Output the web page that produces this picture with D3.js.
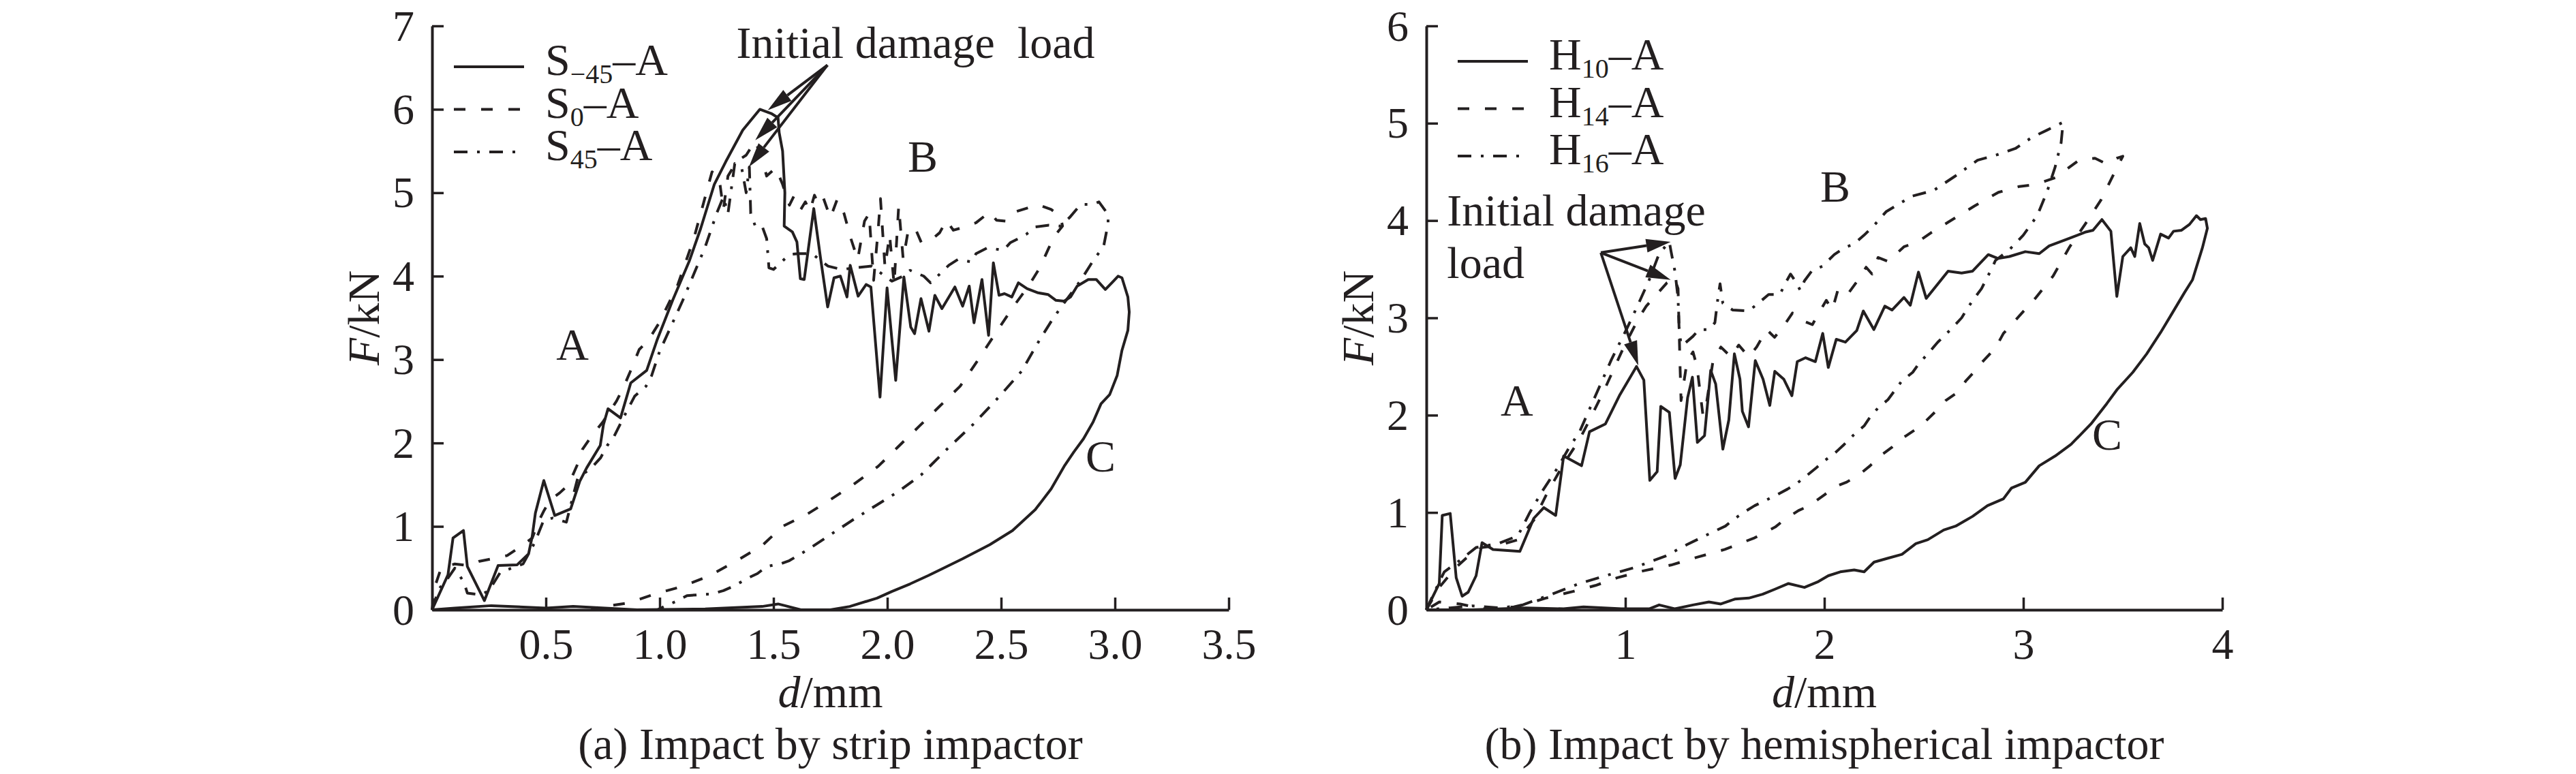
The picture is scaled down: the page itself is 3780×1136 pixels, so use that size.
<!DOCTYPE html>
<html>
<head>
<meta charset="utf-8">
<script src="https://cdn.jsdelivr.net/npm/d3@7/dist/d3.min.js"></script>
<style>
body { margin: 0; background: #fff; }
svg text { font-family: "Liberation Serif", "Times New Roman", serif; fill: #231f20; }
</style>
</head>
<body>
<div id="chart"></div>
<script>
// ---- data: [d (mm), F (kN)] ----

// (a) strip impactor
const s45neg = [[0,0],[0.07,0.42],[0.092,0.86],[0.138,0.95],[0.155,0.52],[0.23,0.11],[0.29,0.53],[0.374,0.54],[0.424,0.67],[0.44,0.88],[0.454,1.16],[0.491,1.55],[0.539,1.13],[0.609,1.21],[0.649,1.54],[0.679,1.7],[0.739,1.97],[0.753,2.22],[0.773,2.41],[0.828,2.3],[0.873,2.72],[0.943,2.87],[0.988,3.23],[1.057,3.71],[1.13,4.18],[1.18,4.57],[1.24,5.1],[1.29,5.37],[1.365,5.75],[1.44,6.0],[1.49,5.95],[1.52,5.9],[1.525,5.72],[1.54,5.5],[1.55,5.0],[1.547,4.6],[1.583,4.53],[1.603,4.41],[1.618,3.97],[1.635,3.96],[1.677,4.81],[1.706,4.23],[1.738,3.63],[1.766,3.98],[1.794,4.0],[1.823,3.75],[1.837,4.13],[1.872,3.76],[1.907,3.9],[1.928,3.87],[1.968,2.55],[1.999,3.86],[2.037,2.75],[2.073,3.99],[2.103,3.39],[2.12,3.31],[2.148,3.73],[2.183,3.34],[2.209,3.77],[2.24,3.61],[2.297,3.87],[2.331,3.64],[2.36,3.88],[2.381,3.44],[2.416,3.96],[2.445,3.29],[2.466,4.16],[2.491,3.77],[2.515,3.79],[2.547,3.75],[2.576,3.92],[2.614,3.85],[2.663,3.8],[2.706,3.78],[2.741,3.71],[2.777,3.7],[2.805,3.75],[2.834,3.88],[2.883,3.96],[2.918,3.96],[2.958,3.84],[2.99,3.93],[3.014,4.0],[3.031,3.98],[3.057,3.75],[3.063,3.57],[3.057,3.35],[3.031,3.11],[3.01,2.81],[2.977,2.58],[2.939,2.47],[2.904,2.25],[2.862,2.05],[2.819,1.89],[2.777,1.72],[2.72,1.45],[2.65,1.2],[2.55,0.95],[2.45,0.78],[2.33,0.61],[2.24,0.49],[2.18,0.41],[2.1,0.31],[2.02,0.22],[1.955,0.14],[1.835,0.04],[1.75,0.0],[1.62,0.0],[1.55,0.05],[1.52,0.07],[1.45,0.04],[1.2,0.01],[0.9,0.0],[0.62,0.04],[0.5,0.02],[0.26,0.05],[0.1,0.02],[0,0]];

const s0 = [[0,0],[0.015,0.3],[0.04,0.5],[0.1,0.55],[0.16,0.53],[0.205,0.58],[0.28,0.62],[0.33,0.65],[0.39,0.76],[0.44,0.86],[0.47,1.07],[0.49,1.18],[0.52,1.32],[0.56,1.4],[0.6,1.5],[0.64,1.75],[0.66,1.92],[0.7,2.08],[0.75,2.25],[0.81,2.5],[0.84,2.66],[0.87,2.85],[0.91,3.12],[0.95,3.23],[1.0,3.45],[1.08,3.9],[1.15,4.45],[1.2,4.95],[1.23,5.25],[1.26,5.2],[1.28,4.8],[1.3,5.2],[1.34,5.38],[1.38,5.45],[1.42,5.62],[1.45,5.4],[1.47,5.2],[1.51,5.3],[1.54,5.1],[1.57,4.85],[1.59,4.96],[1.62,4.8],[1.64,4.89],[1.66,4.78],[1.68,4.97],[1.7,4.85],[1.72,4.93],[1.75,4.7],[1.78,4.92],[1.81,4.75],[1.84,4.45],[1.87,4.2],[1.9,4.66],[1.92,4.75],[1.94,3.95],[1.96,4.56],[1.97,4.93],[1.99,4.1],[2.01,4.5],[2.03,3.9],[2.05,4.84],[2.07,4.2],[2.09,4.52],[2.12,4.59],[2.15,4.4],[2.2,4.45],[2.23,4.52],[2.26,4.67],[2.29,4.55],[2.34,4.59],[2.39,4.64],[2.45,4.77],[2.48,4.67],[2.52,4.66],[2.55,4.76],[2.62,4.82],[2.66,4.86],[2.72,4.8],[2.76,4.72],[2.77,4.6],[2.74,4.5],[2.71,4.34],[2.67,4.1],[2.62,3.88],[2.55,3.62],[2.46,3.25],[2.39,2.96],[2.32,2.68],[2.23,2.44],[2.14,2.2],[2.05,1.96],[1.96,1.72],[1.85,1.5],[1.75,1.32],[1.65,1.15],[1.54,1.0],[1.45,0.77],[1.34,0.59],[1.22,0.41],[1.1,0.28],[0.98,0.19],[0.86,0.08],[0.73,0.03],[0.7,0.0]];

const s45 = [[0,0],[0.03,0.25],[0.07,0.38],[0.1,0.5],[0.14,0.33],[0.155,0.2],[0.215,0.18],[0.25,0.23],[0.3,0.45],[0.4,0.55],[0.45,0.8],[0.49,1.07],[0.53,1.1],[0.59,1.05],[0.64,1.58],[0.7,1.7],[0.74,1.82],[0.77,1.97],[0.8,2.08],[0.84,2.3],[0.89,2.56],[0.94,2.68],[0.965,2.81],[1.0,3.1],[1.1,3.7],[1.2,4.35],[1.25,4.75],[1.28,4.95],[1.3,4.75],[1.33,5.35],[1.36,5.3],[1.38,5.0],[1.394,5.31],[1.4,4.75],[1.42,4.6],[1.45,4.6],[1.47,4.45],[1.48,4.1],[1.5,4.08],[1.57,4.26],[1.61,4.27],[1.67,4.27],[1.71,4.18],[1.74,4.12],[1.8,4.08],[1.86,4.1],[1.93,4.12],[1.99,4.0],[2.02,3.94],[2.07,4.0],[2.1,4.07],[2.16,4.0],[2.19,3.92],[2.24,4.05],[2.27,4.13],[2.31,4.2],[2.37,4.17],[2.39,4.27],[2.44,4.34],[2.51,4.31],[2.54,4.4],[2.59,4.47],[2.61,4.5],[2.65,4.59],[2.71,4.61],[2.76,4.6],[2.8,4.7],[2.85,4.86],[2.9,4.86],[2.93,4.89],[2.97,4.74],[2.97,4.63],[2.95,4.35],[2.91,4.21],[2.85,3.95],[2.78,3.69],[2.73,3.5],[2.67,3.24],[2.59,2.86],[2.49,2.55],[2.38,2.23],[2.26,1.92],[2.15,1.62],[2.05,1.42],[1.95,1.25],[1.85,1.08],[1.75,0.9],[1.65,0.72],[1.57,0.59],[1.53,0.55],[1.47,0.52],[1.43,0.435],[1.38,0.37],[1.33,0.29],[1.28,0.23],[1.23,0.19],[1.17,0.18],[1.12,0.17],[1.08,0.11],[1.02,0.04],[0.99,0.0]];

// (b) hemispherical impactor
const h10 = [[0,0],[0.065,0.27],[0.08,0.97],[0.12,0.99],[0.15,0.33],[0.18,0.14],[0.21,0.18],[0.25,0.35],[0.28,0.69],[0.335,0.62],[0.47,0.6],[0.54,0.94],[0.59,1.05],[0.65,0.97],[0.69,1.58],[0.78,1.48],[0.82,1.83],[0.9,1.91],[0.97,2.2],[1.056,2.5],[1.093,2.36],[1.123,1.33],[1.16,1.42],[1.178,2.09],[1.221,2.03],[1.25,1.35],[1.276,1.49],[1.313,2.18],[1.337,2.39],[1.362,1.72],[1.398,1.79],[1.429,2.46],[1.454,2.32],[1.49,1.65],[1.52,1.95],[1.548,2.63],[1.576,2.37],[1.588,2.04],[1.619,1.88],[1.653,2.56],[1.692,2.37],[1.726,2.1],[1.751,2.45],[1.796,2.37],[1.837,2.2],[1.864,2.55],[1.906,2.59],[1.955,2.55],[1.992,2.84],[2.02,2.49],[2.06,2.78],[2.106,2.75],[2.163,2.87],[2.196,3.07],[2.249,2.88],[2.304,3.12],[2.34,3.08],[2.4,3.21],[2.432,3.13],[2.473,3.47],[2.512,3.2],[2.622,3.48],[2.69,3.46],[2.745,3.48],[2.824,3.65],[2.873,3.61],[2.93,3.63],[3.01,3.68],[3.08,3.66],[3.13,3.74],[3.21,3.8],[3.31,3.88],[3.35,3.9],[3.395,4.01],[3.44,3.89],[3.47,3.22],[3.5,3.63],[3.54,3.72],[3.56,3.63],[3.585,3.97],[3.61,3.76],[3.63,3.72],[3.65,3.59],[3.69,3.86],[3.73,3.82],[3.755,3.89],[3.795,3.9],[3.835,3.96],[3.87,4.05],[3.89,4.01],[3.916,4.02],[3.925,3.92],[3.9,3.72],[3.85,3.39],[3.81,3.26],[3.74,3.02],[3.69,2.85],[3.62,2.63],[3.55,2.44],[3.47,2.26],[3.42,2.12],[3.34,1.91],[3.24,1.7],[3.16,1.58],[3.08,1.48],[3.01,1.31],[2.94,1.25],[2.9,1.14],[2.82,1.07],[2.745,0.96],[2.66,0.86],[2.6,0.82],[2.52,0.72],[2.46,0.68],[2.39,0.57],[2.32,0.53],[2.25,0.49],[2.2,0.39],[2.15,0.41],[2.08,0.39],[2.02,0.35],[1.97,0.29],[1.9,0.23],[1.82,0.27],[1.75,0.21],[1.69,0.16],[1.62,0.12],[1.55,0.11],[1.48,0.06],[1.42,0.08],[1.34,0.05],[1.25,0.01],[1.17,0.05],[1.12,0.01],[0.98,0.01],[0.79,0.03],[0.69,0.01],[0.5,0.02],[0.23,0],[0,0]];

const h14 = [[0,0],[0.065,0.23],[0.146,0.43],[0.2,0.53],[0.28,0.64],[0.36,0.66],[0.46,0.72],[0.54,0.92],[0.605,1.19],[0.69,1.5],[0.77,1.75],[0.82,1.95],[0.89,2.24],[0.99,2.69],[1.068,3.0],[1.105,3.12],[1.166,3.26],[1.209,3.36],[1.246,3.41],[1.265,3.3],[1.27,2.9],[1.275,2.5],[1.28,2.15],[1.31,2.55],[1.34,2.65],[1.36,2.5],[1.39,2.0],[1.41,2.15],[1.44,2.55],[1.48,2.7],[1.53,2.6],[1.57,2.72],[1.62,2.6],[1.66,2.7],[1.71,2.88],[1.75,2.8],[1.79,2.9],[1.84,3.05],[1.88,2.98],[1.94,2.93],[1.97,3.04],[2.01,3.18],[2.04,3.08],[2.07,3.3],[2.12,3.25],[2.17,3.39],[2.21,3.52],[2.24,3.45],[2.27,3.62],[2.32,3.58],[2.4,3.73],[2.47,3.78],[2.54,3.88],[2.62,3.98],[2.755,4.15],[2.875,4.29],[2.98,4.35],[3.06,4.37],[3.16,4.44],[3.28,4.62],[3.36,4.64],[3.42,4.58],[3.47,4.64],[3.5,4.66],[3.46,4.5],[3.39,4.21],[3.31,3.96],[3.23,3.72],[3.15,3.43],[3.06,3.2],[2.98,3.02],[2.9,2.84],[2.86,2.69],[2.8,2.56],[2.76,2.46],[2.71,2.35],[2.68,2.25],[2.61,2.15],[2.57,2.06],[2.505,1.93],[2.456,1.85],[2.39,1.76],[2.34,1.67],[2.28,1.58],[2.23,1.48],[2.17,1.38],[2.11,1.31],[2.047,1.26],[2.0,1.18],[1.925,1.07],[1.87,1.02],[1.796,0.92],[1.753,0.85],[1.65,0.74],[1.5,0.62],[1.36,0.54],[1.23,0.46],[1.09,0.4],[0.96,0.33],[0.85,0.25],[0.74,0.19],[0.6,0.12],[0.52,0.07],[0.44,0.03],[0.28,0.01],[0.17,0.06],[0.065,0.08],[0,0]];

const h16 = [[0,0],[0.04,0.18],[0.09,0.39],[0.17,0.51],[0.25,0.64],[0.36,0.68],[0.46,0.76],[0.52,1.0],[0.58,1.21],[0.66,1.46],[0.71,1.64],[0.77,1.83],[0.85,2.2],[0.93,2.57],[1.01,2.9],[1.065,3.14],[1.12,3.39],[1.17,3.66],[1.221,3.78],[1.23,3.68],[1.25,3.47],[1.265,3.2],[1.27,2.9],[1.28,2.72],[1.3,2.74],[1.34,2.81],[1.37,2.88],[1.42,2.88],[1.45,2.95],[1.465,3.2],[1.476,3.35],[1.49,3.15],[1.54,3.08],[1.62,3.07],[1.674,3.16],[1.72,3.24],[1.777,3.24],[1.8,3.34],[1.83,3.45],[1.85,3.39],[1.88,3.28],[1.9,3.38],[1.94,3.49],[1.99,3.53],[2.05,3.65],[2.1,3.72],[2.15,3.76],[2.2,3.85],[2.25,3.95],[2.31,4.09],[2.44,4.25],[2.55,4.31],[2.66,4.46],[2.77,4.62],[2.875,4.68],[2.96,4.74],[3.04,4.85],[3.12,4.93],[3.2,5.01],[3.19,4.8],[3.16,4.55],[3.12,4.3],[3.07,4.05],[3.0,3.85],[2.93,3.7],[2.86,3.59],[2.84,3.5],[2.817,3.41],[2.79,3.3],[2.75,3.19],[2.72,3.1],[2.69,3.0],[2.64,2.89],[2.57,2.75],[2.52,2.63],[2.475,2.53],[2.444,2.44],[2.389,2.35],[2.32,2.16],[2.268,2.07],[2.23,1.98],[2.2,1.89],[2.144,1.79],[2.1,1.7],[2.058,1.62],[2.0,1.53],[1.96,1.46],[1.918,1.39],[1.863,1.3],[1.815,1.24],[1.76,1.18],[1.7,1.12],[1.65,1.07],[1.594,1.0],[1.545,0.93],[1.503,0.86],[1.44,0.8],[1.31,0.67],[1.2,0.55],[1.04,0.43],[0.9,0.35],[0.77,0.27],[0.63,0.16],[0.55,0.1],[0.47,0.04],[0.36,0.02],[0.23,0.04],[0.12,0.02],[0,0]];

// ticks
const ticksAx = [0.5, 1.0, 1.5, 2.0, 2.5, 3.0, 3.5];
const ticksAy = [0, 1, 2, 3, 4, 5, 6, 7];
const ticksBx = [1, 2, 3, 4];
const ticksBy = [0, 1, 2, 3, 4, 5, 6];

const legendA = [["S", "\u221245", "\u2013A"], ["S", "0", "\u2013A"], ["S", "45", "\u2013A"]];
const legendB = [["H", "10", "\u2013A"], ["H", "14", "\u2013A"], ["H", "16", "\u2013A"]];

const ink = "#231f20";
const dashes = { solid: null, dash: "17,23", dashdot: "20,14,4,14" };

const W = 3780, H = 1136;
const svg = d3.select("#chart").append("svg")
    .attr("width", W).attr("height", H)
    .attr("viewBox", `0 0 ${W} ${H}`);

function drawPanel(p) {
    const x = d3.scaleLinear().domain([0, p.xMax]).range([p.left, p.right]);
    const y = d3.scaleLinear().domain([0, p.yMax]).range([p.bottom, p.top]);
    const g = svg.append("g");

    // axes with inward ticks
    const xAxis = d3.axisBottom(x).tickValues(p.xTicks).tickFormat(p.xFmt)
        .tickSizeInner(-18).tickSizeOuter(0).tickPadding(27);
    const yAxis = d3.axisLeft(y).tickValues(p.yTicks).tickFormat(d3.format("d"))
        .tickSizeInner(-17).tickSizeOuter(0).tickPadding(26);

    const gx = g.append("g").attr("transform", `translate(0,${p.bottom})`).call(xAxis);
    const gy = g.append("g").attr("transform", `translate(${p.left},0)`).call(yAxis);
    [gx, gy].forEach(a => {
        a.attr("font-family", null).attr("font-size", null);
        a.select(".domain").attr("stroke", ink).attr("stroke-width", 4);
        a.selectAll(".tick line").attr("stroke", ink).attr("stroke-width", 3.5);
        a.selectAll(".tick text").attr("fill", ink).style("font-size", "64px");
    });
    gy.selectAll(".tick text").attr("dy", "0.33em");
    gy.selectAll(".tick").filter(d => d === 0).select("line").remove();

    // curves
    const line = d3.line().x(d => x(d[0])).y(d => y(d[1]));
    p.series.forEach(s => {
        g.append("path")
            .datum(s.data)
            .attr("d", line)
            .attr("fill", "none")
            .attr("stroke", ink)
            .attr("stroke-width", 4)
            .attr("stroke-linejoin", "round")
            .attr("stroke-dasharray", dashes[s.style]);
    });

    // legend
    p.legend.forEach((lab, i) => {
        const ly = p.legendY + i * p.legendStep;
        g.append("line")
            .attr("x1", p.legendX).attr("x2", p.legendX + 103)
            .attr("y1", ly - 12).attr("y2", ly - 12)
            .attr("stroke", ink).attr("stroke-width", 4)
            .attr("stroke-dasharray", dashes[p.series[i].style]);
        const t = g.append("text").attr("x", p.legendX + 134).attr("y", ly).style("font-size", "66px");
        t.append("tspan").text(lab[0]);
        t.append("tspan").attr("dy", 12).style("font-size", "40px").text(lab[1]);
        t.append("tspan").attr("dy", -12).text(lab[2]);
    });

    // axis titles
    const yl = g.append("text")
        .attr("transform", `translate(${p.yLabelX},${(p.top + p.bottom) / 2}) rotate(-90)`)
        .attr("text-anchor", "middle").style("font-size", "66px");
    yl.append("tspan").style("font-style", "italic").text("F");
    yl.append("tspan").text("/kN");

    const xl = g.append("text")
        .attr("x", (p.left + p.right) / 2).attr("y", 1038)
        .attr("text-anchor", "middle").style("font-size", "66px");
    xl.append("tspan").style("font-style", "italic").text("d");
    xl.append("tspan").text("/mm");

    g.append("text")
        .attr("x", (p.left + p.right) / 2).attr("y", 1114)
        .attr("text-anchor", "middle").style("font-size", "66px")
        .text(p.caption);

    // region letters
    p.regions.forEach(r => {
        g.append("text").attr("x", x(r[1])).attr("y", y(r[2]))
            .attr("text-anchor", "middle").style("font-size", "66px").text(r[0]);
    });

    // "Initial damage load" note with arrows
    p.note.lines.forEach((s, i) => {
        g.append("text").attr("x", x(p.note.at[0])).attr("y", y(p.note.at[1]) + i * 77)
            .style("font-size", "66px").style("white-space", "pre").text(s);
    });
    const ox = x(p.note.from[0]), oy = y(p.note.from[1]);
    p.note.tips.forEach(tp => {
        const tx = x(tp[0]), ty = y(tp[1]);
        const dx = tx - ox, dy = ty - oy, len = Math.hypot(dx, dy);
        const ux = dx / len, uy = dy / len;
        const hl = 36, hw = 10;
        const bx = tx - ux * hl, by = ty - uy * hl;
        g.append("line").attr("x1", ox).attr("y1", oy).attr("x2", bx).attr("y2", by)
            .attr("stroke", ink).attr("stroke-width", 4);
        g.append("path")
            .attr("d", `M${tx},${ty}L${bx - uy * hw},${by + ux * hw}L${bx + uy * hw},${by - ux * hw}Z`)
            .attr("fill", ink);
    });
}

drawPanel({
    left: 634, right: 1803, top: 38, bottom: 895,
    xMax: 3.5, yMax: 7, xTicks: ticksAx, yTicks: ticksAy, xFmt: d3.format(".1f"),
    series: [{data: s45neg, style: "solid"}, {data: s0, style: "dash"}, {data: s45, style: "dashdot"}],
    legend: legendA, legendX: 666, legendY: 110, legendStep: 62.5,
    yLabelX: 556,
    caption: "(a) Impact by strip impactor",
    regions: [["A", 0.617, 3.0], ["B", 2.156, 5.253], ["C", 2.937, 1.658]],
    note: {lines: ["Initial damage  load"], at: [1.337, 6.618], from: [1.737, 6.53],
           tips: [[1.475, 5.99], [1.42, 5.63], [1.392, 5.31]]}
});

drawPanel({
    left: 2093, right: 3261, top: 38, bottom: 895,
    xMax: 4, yMax: 6, xTicks: ticksBx, yTicks: ticksBy, xFmt: d3.format("d"),
    series: [{data: h10, style: "solid"}, {data: h14, style: "dash"}, {data: h16, style: "dashdot"}],
    legend: legendB, legendX: 2139, legendY: 102, legendStep: 69.5,
    yLabelX: 2015,
    caption: "(b) Impact by hemispherical impactor",
    regions: [["A", 0.455, 1.997], ["B", 2.055, 4.197], ["C", 3.421, 1.647]],
    note: {lines: ["Initial damage", "load"], at: [0.104, 3.948], from: [0.877, 3.67],
           tips: [[1.228, 3.78], [1.228, 3.39], [1.065, 2.51]]}
});
</script>
</body>
</html>
